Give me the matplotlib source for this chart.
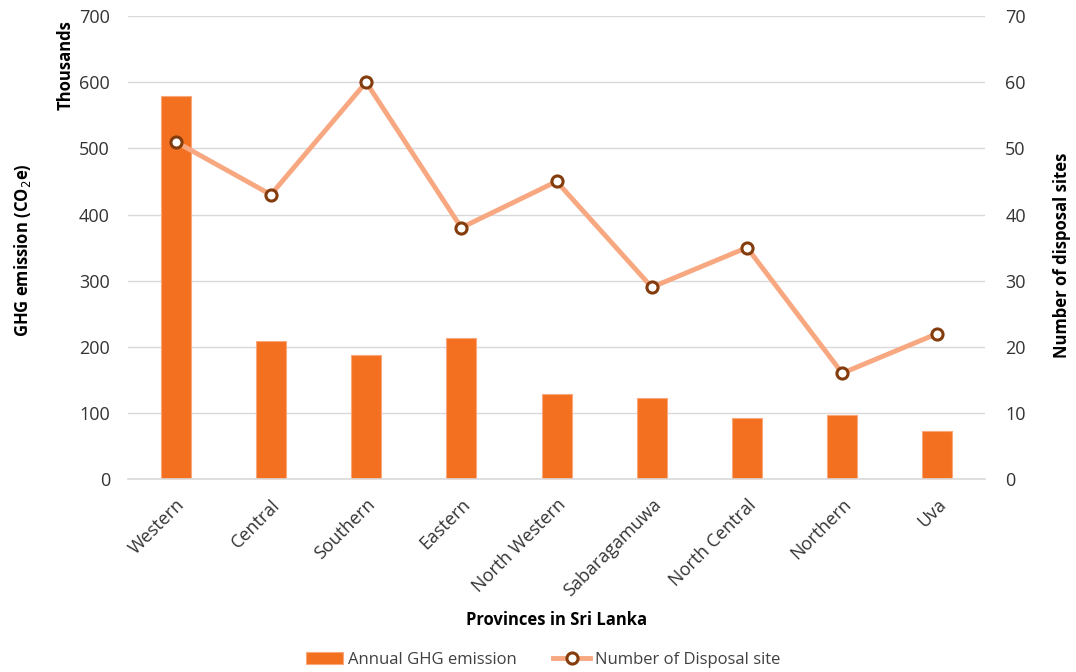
import matplotlib.pyplot as plt
import numpy as np

plt.rcParams['font.family'] = ['Open Sans', 'DejaVu Sans']

provinces = ['Western', 'Central', 'Southern', 'Eastern', 'North Western',
             'Sabaragamuwa', 'North Central', 'Northern', 'Uva']
ghg_thousands = [579, 209, 187, 213, 129, 122, 92, 97, 73]
disposal_sites = [51, 43, 60, 38, 45, 29, 35, 16, 22]

bar_color = '#F37021'
line_color = '#F7A880'
marker_edge = '#843C0C'
grid_color = '#D9D9D9'
text_color = '#333333'

fig = plt.figure(figsize=(10.76, 6.72), dpi=100)
ax = fig.add_axes([0.119, 0.2872, 0.7965, 0.6888])
ax2 = ax.twinx()

x = np.arange(len(provinces))
ax.bar(x, ghg_thousands, width=0.315, color=bar_color, edgecolor='#F9A77B',
       linewidth=0.8, zorder=2, label='Annual GHG emission')
ax2.plot(x, disposal_sites, color=line_color, linewidth=3.5, marker='o',
         markersize=8, markerfacecolor='white', markeredgecolor=marker_edge,
         markeredgewidth=2.2, zorder=3, label='Number of Disposal site')

ax.set_xlim(-0.5, len(provinces) - 0.5)
ax.set_ylim(0, 700)
ax2.set_ylim(0, 70)
ax.set_yticks(range(0, 701, 100))
ax2.set_yticks(range(0, 71, 10))
ax.yaxis.grid(True, color=grid_color, linewidth=1, zorder=0)
ax.set_axisbelow(True)

for a in (ax, ax2):
    for s in a.spines.values():
        s.set_visible(False)
    a.tick_params(length=0, labelsize=13, colors=text_color)
ax.spines['bottom'].set_visible(True)
ax.spines['bottom'].set_color(grid_color)
ax.spines['bottom'].set_linewidth(1.2)

ax.tick_params(axis='y', pad=13)
ax2.tick_params(axis='y', pad=14.5)
ax.set_xticks(x)
ax.set_xticklabels(provinces, rotation=45, ha='right', rotation_mode='anchor')
ax.tick_params(axis='x', pad=12)

# axis titles placed in figure coords
fig.text(0.0205, 0.628, 'GHG emission (CO$_2$e)', rotation=90, ha='center',
         va='center', fontsize=12, fontweight='bold')
fig.text(0.987, 0.62, 'Number of disposal sites', rotation=90, ha='center',
         va='center', fontsize=12, fontweight='bold')
fig.text(0.061, 0.903, 'Thousands', rotation=90, ha='center', va='center',
         fontsize=12, fontweight='bold')
ax.set_xlabel('Provinces in Sri Lanka', fontsize=12, fontweight='bold',
              color='black', labelpad=8)

h1, l1 = ax.get_legend_handles_labels()
h2, l2 = ax2.get_legend_handles_labels()
fig.legend(h1 + h2, l1 + l2, loc='center', bbox_to_anchor=(0.505, 0.018),
           ncol=2, frameon=False, fontsize=12, labelcolor='#404040',
           handlelength=2.2, handletextpad=0.3, columnspacing=2.2)

fig.savefig('out.png', dpi=100)
